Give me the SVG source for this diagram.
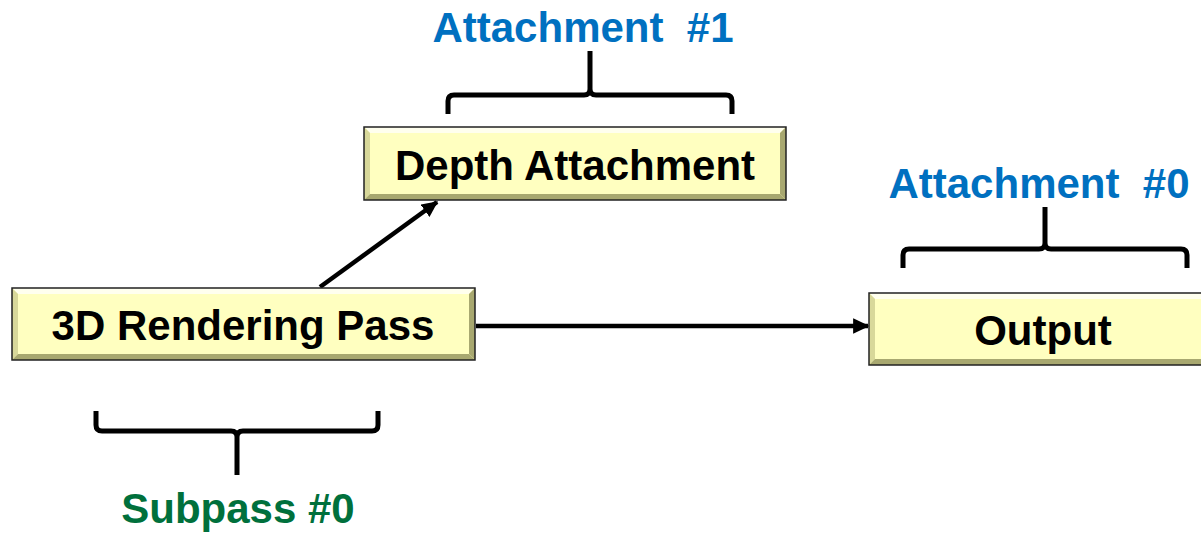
<svg xmlns="http://www.w3.org/2000/svg" width="1201" height="533" viewBox="0 0 1201 533">
<style>
.lbl{font-family:"Liberation Sans",Arial,sans-serif;font-weight:bold;font-size:42px;text-anchor:middle;white-space:pre}
.blk{fill:#000}
.blue{fill:#0070C0}
.green{fill:#00703C}
.face{fill:#FFFFC0}
.hi{fill:#FFFFEE}
.sh{fill:#A8A870}
.sd{fill:#D8D89A}
.edge{fill:none;stroke:#222;stroke-width:1.5}
.brace{fill:none;stroke:#000;stroke-width:5;stroke-linejoin:round}
.conn{stroke:#000;stroke-width:4.5;fill:none}
</style>
<defs>
<marker id="ah" markerWidth="3.6" markerHeight="3.4" refX="5.5" refY="3" orient="auto" markerUnits="strokeWidth" viewBox="0 0 6 6" preserveAspectRatio="none">
<path d="M0,0 L6,3 L0,6 Z" fill="#000"/>
</marker>
</defs>
<g id="connectors">
<line class="conn" x1="320" y1="287" x2="437" y2="202" marker-end="url(#ah)"/>
<line class="conn" x1="476" y1="326" x2="868" y2="326" marker-end="url(#ah)"/>
</g>
<g id="depth">
<rect class="face" x="364" y="127" width="422" height="73"/>
<polygon class="hi" points="364,127 786,127 780,133 370,133"/>
<polygon class="sd" points="364,127 370,133 370,194 364,200"/>
<polygon class="sh" points="786,127 786,200 780,194 780,133"/>
<polygon class="sh" points="364,200 786,200 780,194 370,194"/>
<rect class="edge" x="364" y="127" width="422" height="73"/>
<text class="lbl blk" x="575" y="180">Depth Attachment</text>
</g>
<g id="render">
<rect class="face" x="12" y="288" width="463" height="72"/>
<polygon class="hi" points="12,288 475,288 469,294 18,294"/>
<polygon class="sd" points="12,288 18,294 18,354 12,360"/>
<polygon class="sh" points="475,288 475,360 469,354 469,294"/>
<polygon class="sh" points="12,360 475,360 469,354 18,354"/>
<rect class="edge" x="12" y="288" width="463" height="72"/>
<text class="lbl blk" x="243" y="340">3D Rendering Pass</text>
</g>
<g id="output">
<rect class="face" x="869" y="293" width="340" height="72"/>
<polygon class="hi" points="869,293 1209,293 1203,299 875,299"/>
<polygon class="sd" points="869,293 875,299 875,359 869,365"/>
<polygon class="sh" points="869,365 1209,365 1203,359 875,359"/>
<rect class="edge" x="869" y="293" width="340" height="72"/>
<text class="lbl blk" x="1043" y="345">Output</text>
</g>
<g id="brace-att1">
<path class="brace" d="M448,114 V101 Q448,95 454,95 H584 Q590,95 590,89 V51 M590,89 Q590,95 596,95 H726 Q732,95 732,101 V114"/>
<text class="lbl blue" x="583" y="42" xml:space="preserve">Attachment  #1</text>
</g>
<g id="brace-att0">
<path class="brace" d="M903,268 V255 Q903,249 909,249 H1039 Q1045,249 1045,243 V207 M1045,243 Q1045,249 1051,249 H1181 Q1187,249 1187,255 V268"/>
<text class="lbl blue" x="1039" y="198" xml:space="preserve">Attachment  #0</text>
</g>
<g id="brace-sub">
<path class="brace" d="M96,411 V425 Q96,431 102,431 H231 Q237,431 237,437 V475 M237,437 Q237,431 243,431 H372 Q378,431 378,425 V411"/>
<text class="lbl green" x="238" y="523">Subpass #0</text>
</g>
</svg>
